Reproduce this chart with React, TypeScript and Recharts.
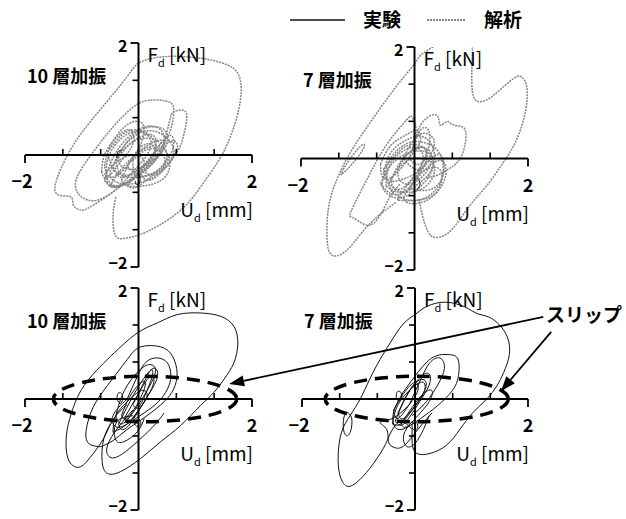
import { LineChart, Line, XAxis, YAxis, ReferenceLine, ReferenceDot, ReferenceArea } from 'recharts';

type Pt = [number, number];

const seriesNames = ['実験', '解析'];
const panelTitles = ['10 層加振', '7 層加振', '10 層加振', '7 層加振'];
const slipLabel = 'スリップ';
const axisEnds = [-2, 2];
const innerTicks = [-4 / 3, -2 / 3, 2 / 3, 4 / 3];

// ---- 10層加振, 解析 (grey) ----
const tl10Outer: Pt[] = [
  [-0.4, -0.75], [-0.45, -1.1], [-0.41, -1.43], [-0.26, -1.49], [0, -1.43], [0.32, -1.28],
  [0.68, -1.04], [0.97, -0.74], [1.26, -0.33], [1.47, 0], [1.62, 0.33], [1.75, 0.74],
  [1.81, 1.16], [1.75, 1.46], [1.56, 1.61], [1.21, 1.71], [0.74, 1.76], [0.32, 1.74],
  [0, 1.64], [-0.2, 1.4], [-0.6, 0.9], [-1.0, 0.4], [-1.3, -0.1], [-1.47, -0.65],
  [-1.21, -0.74], [-1.15, -0.89], [-1.03, -0.98], [-0.89, -0.95], [-0.56, -0.74], [-0.33, -0.57],
];
const tl10Mid: Pt[] = [
  [-0.33, -0.57], [-0.7, -0.8], [-1.0, -0.75], [-1.1, -0.45], [-0.8, 0.05], [-0.45, 0.5],
  [-0.1, 0.85], [0.2, 0.98], [0.53, 0.95], [0.62, 0.8], [0.58, 0.5], [0.45, 0.2],
  [0.25, -0.1], [0.0, -0.35], [-0.33, -0.57],
];
const tl10Side: Pt[] = [
  [0.45, 0.2], [0.55, 0.62], [0.62, 0.77], [0.79, 0.8], [0.85, 0.65], [0.79, 0.33],
  [0.7, 0.09], [0.5, -0.15], [0.3, -0.35], [0.1, -0.3],
];
const tl10Core: Pt[][] = [
  [[-0.6, -0.45], [-0.45, -0.05], [-0.2, 0.3], [0.1, 0.5], [0.35, 0.48], [0.45, 0.3], [0.35, 0.0], [0.1, -0.3], [-0.2, -0.5], [-0.45, -0.58], [-0.6, -0.45]],
  [[-0.5, -0.3], [-0.3, 0.1], [0.0, 0.38], [0.3, 0.42], [0.55, 0.25], [0.62, 0.0], [0.45, -0.25], [0.15, -0.45], [-0.2, -0.52], [-0.45, -0.45], [-0.5, -0.3]],
  [[-0.4, -0.1], [-0.15, 0.2], [0.15, 0.3], [0.4, 0.2], [0.5, -0.05], [0.3, -0.3], [0.0, -0.4], [-0.3, -0.35], [-0.4, -0.1]],
  [[-0.55, 0.05], [-0.3, 0.35], [-0.05, 0.45], [0.2, 0.35], [0.3, 0.1], [0.15, -0.2], [-0.1, -0.35], [-0.4, -0.3], [-0.55, 0.05]],
  [[-0.3, -0.45], [-0.1, -0.05], [0.2, 0.15], [0.45, 0.1], [0.55, -0.2], [0.4, -0.45], [0.1, -0.55], [-0.2, -0.55], [-0.3, -0.45]],
  [[-0.2, -0.2], [0.0, 0.1], [0.2, 0.2], [0.3, 0.05], [0.15, -0.15], [-0.05, -0.3], [-0.2, -0.2]],
  [[-0.6, -0.2], [-0.5, 0.15], [-0.25, 0.5], [0.0, 0.6], [0.1, 0.45], [0.0, 0.1], [-0.25, -0.25], [-0.5, -0.4], [-0.6, -0.2]],
  [[0.0, -0.3], [0.3, 0.05], [0.6, 0.25], [0.68, 0.1], [0.5, -0.2], [0.2, -0.45], [0.0, -0.3]],
  [[-0.55, -0.5], [-0.55, -0.1], [-0.35, 0.25], [-0.05, 0.42], [0.2, 0.3], [0.15, 0.0], [-0.1, -0.3], [-0.35, -0.55], [-0.55, -0.5]],
  [[-0.2, -0.55], [0.1, -0.2], [0.35, 0.15], [0.55, 0.35], [0.62, 0.2], [0.5, -0.1], [0.2, -0.4], [-0.05, -0.58], [-0.2, -0.55]],
  [[-0.45, -0.2], [-0.2, 0.15], [0.1, 0.35], [0.3, 0.3], [0.25, 0.0], [0.0, -0.25], [-0.3, -0.4], [-0.45, -0.2]],
  [[-0.35, 0.0], [-0.1, 0.35], [0.2, 0.5], [0.45, 0.45], [0.5, 0.2], [0.25, -0.1], [-0.05, -0.25], [-0.3, -0.2], [-0.35, 0.0]],
  [[-0.6, -0.35], [-0.35, -0.1], [-0.05, 0.0], [0.1, -0.15], [-0.1, -0.4], [-0.4, -0.55], [-0.6, -0.35]],
  [[-0.1, -0.1], [0.15, 0.1], [0.4, 0.05], [0.45, -0.2], [0.2, -0.35], [-0.05, -0.35], [-0.1, -0.1]],
  [[-0.5, -0.55], [-0.3, -0.25], [0.0, 0.05], [0.3, 0.25], [0.45, 0.2], [0.3, -0.1], [0.0, -0.35], [-0.3, -0.55], [-0.5, -0.55]],
  [[-0.65, -0.3], [-0.6, 0.0], [-0.4, 0.3], [-0.15, 0.45], [-0.1, 0.2], [-0.3, -0.1], [-0.55, -0.4], [-0.65, -0.3]],
];
const tl10Dark: Pt[][] = [
  [[0.02, -0.35], [0.02, -0.5], [-0.04, -0.52], [-0.06, -0.46]],
  [[-0.38, -0.05], [-0.36, 0.06], [-0.3, 0.08]],
];

// ---- 7層加振, 解析 (grey) ----
const tr7Outer: Pt[] = [
  [-0.33, -0.79], [-0.63, -1.02], [-0.92, -1.32], [-1.22, -1.67], [-1.46, -1.73], [-1.54, -1.44],
  [-1.51, -0.85], [-1.34, -0.31], [-1.1, 0.16], [-0.75, 0.69], [-0.33, 1.28], [0, 1.7],
  [0.14, 1.88], [0.44, 2.08], [0.7, 2.27], [0.95, 2.2], [1.02, 1.91], [1.02, 1.2],
  [1.17, 1.02], [1.4, 1.14], [1.75, 1.44], [1.9, 1.45], [1.98, 1.28], [1.96, 0.87],
  [1.8, 0.34], [1.56, -0.08], [1.27, -0.49], [0.97, -0.85], [0.67, -1.26], [0.44, -1.41],
  [0.26, -1.35], [0.14, -1.02], [0.08, -0.73],
];
const tr7Mid: Pt[] = [
  [-0.26, -0.46], [-0.44, -0.7], [-0.56, -0.94], [-0.73, -1.17], [-0.91, -1.17], [-1.09, -1.06],
  [-1.12, -0.95], [-0.85, -0.4], [-0.49, 0.25], [-0.14, 0.69], [-0.05, 0.75], [0.02, 0.6], [0.0, 0.3],
];
const tr7Strand: Pt[] = [[-1.3, -0.3], [-1.2, -0.1], [-0.95, 0.22], [-0.9, 0.18], [-1.1, -0.1], [-1.3, -0.3]];
const tr7Side: Pt[] = [
  [0.0, 0.3], [0.15, 0.66], [0.39, 0.78], [0.45, 0.6], [0.57, 0.66], [0.69, 0.6],
  [0.87, 0.55], [0.9, 0.31], [0.81, 0.01], [0.63, -0.17], [0.4, -0.3], [0.2, -0.35],
];
const tr7Core: Pt[][] = [
  [[-0.55, -0.35], [-0.45, 0.05], [-0.2, 0.3], [0.1, 0.4], [0.3, 0.25], [0.35, -0.05], [0.2, -0.4], [-0.1, -0.65], [-0.35, -0.7], [-0.55, -0.55], [-0.55, -0.35]],
  [[-0.4, -0.6], [-0.5, -0.2], [-0.3, 0.15], [0.0, 0.3], [0.35, 0.2], [0.5, -0.1], [0.45, -0.45], [0.2, -0.7], [-0.1, -0.75], [-0.4, -0.6]],
  [[-0.3, -0.2], [-0.1, 0.1], [0.15, 0.2], [0.3, 0.05], [0.2, -0.25], [-0.05, -0.45], [-0.25, -0.4], [-0.3, -0.2]],
  [[-0.6, -0.1], [-0.4, 0.25], [-0.1, 0.45], [0.05, 0.5], [0.1, 0.3], [-0.1, 0.0], [-0.35, -0.3], [-0.55, -0.35], [-0.6, -0.1]],
  [[-0.2, -0.7], [0.05, -0.35], [0.3, -0.1], [0.5, -0.05], [0.55, -0.3], [0.4, -0.6], [0.15, -0.78], [-0.1, -0.8], [-0.2, -0.7]],
  [[-0.45, -0.45], [-0.2, 0.0], [0.1, 0.2], [0.2, 0.05], [0.0, -0.3], [-0.25, -0.55], [-0.45, -0.45]],
  [[-0.1, 0.0], [0.05, 0.4], [0.15, 0.55], [0.25, 0.5], [0.25, 0.2], [0.1, -0.1], [-0.1, 0.0]],
  [[-0.5, -0.5], [-0.45, -0.15], [-0.25, 0.1], [0.0, 0.2], [0.15, 0.05], [0.05, -0.3], [-0.2, -0.6], [-0.5, -0.5]],
  [[-0.3, -0.75], [-0.1, -0.45], [0.2, -0.2], [0.45, -0.2], [0.45, -0.5], [0.2, -0.72], [-0.3, -0.75]],
  [[-0.55, -0.2], [-0.3, 0.1], [-0.05, 0.25], [0.2, 0.15], [0.15, -0.15], [-0.15, -0.35], [-0.45, -0.4], [-0.55, -0.2]],
  [[-0.2, 0.0], [0.0, 0.35], [0.2, 0.45], [0.35, 0.3], [0.25, 0.0], [0.05, -0.2], [-0.2, 0.0]],
  [[-0.4, -0.35], [-0.15, -0.05], [0.15, 0.0], [0.35, -0.15], [0.25, -0.45], [-0.05, -0.6], [-0.35, -0.55], [-0.4, -0.35]],
  [[-0.1, -0.55], [0.1, -0.25], [0.35, 0.05], [0.5, 0.0], [0.5, -0.3], [0.3, -0.55], [-0.1, -0.55]],
  [[-0.6, -0.45], [-0.4, -0.1], [-0.1, 0.1], [0.25, 0.1], [0.3, -0.2], [0.0, -0.5], [-0.35, -0.65], [-0.6, -0.45]],
];
const tr7Dark: Pt[][] = [[[0.05, -0.35], [0.1, -0.45], [0.05, -0.55]]];

// ---- 10層加振, 実験 (black) ----
const bl10Outer: Pt[] = [
  [-0.2, -0.1], [-0.44, -0.36], [-0.62, -0.72], [-0.85, -1.05], [-1.05, -1.23], [-1.24, -1.08],
  [-1.27, -0.65], [-1.18, -0.25], [-0.96, 0.24], [-0.49, 0.77], [-0.02, 1.19], [0.33, 1.37],
  [0.68, 1.52], [1.09, 1.55], [1.45, 1.49], [1.68, 1.31], [1.75, 1.01], [1.68, 0.65],
  [1.51, 0.36], [1.33, 0.12], [1.09, -0.12], [0.74, -0.48], [0.39, -0.77], [0.04, -1.07],
  [-0.32, -1.31], [-0.55, -1.34], [-0.64, -1.13], [-0.61, -0.71], [-0.44, -0.36],
];
const bl10Mid: Pt[] = [
  [-0.67, -0.86], [-0.88, -0.8], [-0.92, -0.55], [-0.8, -0.15], [-0.55, 0.24], [-0.2, 0.71],
  [0.04, 0.94], [0.39, 0.94], [0.6, 0.77], [0.68, 0.47], [0.62, 0.18], [0.45, -0.05],
  [0.15, -0.3], [-0.2, -0.55], [-0.45, -0.75], [-0.67, -0.86],
];
const bl10Inner: Pt[] = [
  [-0.2, 0.0], [0.0, 0.45], [0.15, 0.68], [0.33, 0.74], [0.51, 0.65], [0.57, 0.41],
  [0.51, 0.18], [0.35, -0.05], [0.1, -0.25], [-0.2, -0.45], [-0.4, -0.5], [-0.45, -0.3], [-0.2, 0.0],
];
const bl10Low: Pt[] = [
  [-0.1, -0.2], [-0.35, -0.5], [-0.55, -0.85], [-0.5, -1.05], [-0.3, -1.0], [0.0, -0.75],
  [0.3, -0.45], [0.45, -0.25],
];
const bl10Core: Pt[][] = [
  [[-0.35, -0.45], [-0.1, 0.05], [0.15, 0.45], [0.3, 0.55], [0.32, 0.35], [0.1, -0.05], [-0.15, -0.45], [-0.3, -0.55], [-0.35, -0.45]],
  [[-0.25, -0.35], [0.0, 0.1], [0.2, 0.4], [0.27, 0.3], [0.1, -0.05], [-0.15, -0.4], [-0.25, -0.35]],
  [[-0.3, -0.3], [-0.15, 0.05], [0.05, 0.3], [0.12, 0.25], [0.0, -0.05], [-0.2, -0.35], [-0.3, -0.3]],
  [[-0.4, -0.3], [-0.25, 0.15], [0.0, 0.5], [0.2, 0.62], [0.3, 0.5], [0.15, 0.15], [-0.1, -0.25], [-0.3, -0.45], [-0.4, -0.3]],
  [[-0.38, 0.0], [-0.36, 0.1], [-0.3, 0.1], [-0.28, 0.0], [-0.32, -0.08], [-0.38, 0.0]],
  [[-0.05, -0.38], [-0.06, -0.46], [0.0, -0.5], [0.04, -0.44], [0.02, -0.38], [-0.05, -0.38]],
  [[-0.45, -0.6], [-0.4, -0.3], [-0.2, -0.05], [0.05, 0.15], [0.15, 0.05], [0.0, -0.2], [-0.2, -0.45], [-0.45, -0.6]],
  [[-0.1, -0.1], [0.05, 0.2], [0.2, 0.5], [0.25, 0.45], [0.15, 0.15], [0.0, -0.15], [-0.1, -0.1]],
  [[-0.1, -0.3], [-0.38, -0.41], [-0.41, -0.71], [-0.26, -0.77], [-0.02, -0.59], [0.1, -0.35]],
];

// ---- 7層加振, 実験 (black) ----
const br7Outer: Pt[] = [
  [-0.05, -0.55], [-0.27, -0.41], [-0.45, -0.65], [-0.56, -0.89], [-0.8, -1.25], [-1.03, -1.5],
  [-1.21, -1.57], [-1.33, -1.37], [-1.36, -1.01], [-1.3, -0.6], [-1.15, -0.3], [-0.97, 0],
  [-0.8, 0.36], [-0.62, 0.71], [-0.44, 1.01], [-0.21, 1.35], [0, 1.52], [0.14, 1.63],
  [0.35, 1.72], [0.6, 1.74], [0.88, 1.66], [1.1, 1.54], [1.3, 1.48], [1.5, 1.33],
  [1.64, 1.1], [1.67, 0.8], [1.57, 0.48], [1.45, 0.24], [1.27, 0], [1.03, -0.24],
  [0.8, -0.54], [0.56, -0.83], [0.27, -0.98], [0.03, -0.98], [-0.05, -0.8], [-0.05, -0.55],
];
const br7Oval: Pt[] = [[-1.2, -0.24], [-1.12, -0.35], [-1.14, -0.58], [-1.22, -0.66], [-1.27, -0.5], [-1.25, -0.3], [-1.2, -0.24]];
const br7Mid: Pt[] = [
  [-0.21, 0.12], [0.14, 0.59], [0.38, 0.78], [0.6, 0.8], [0.76, 0.72], [0.77, 0.42],
  [0.66, 0.15], [0.4, -0.12], [0.1, -0.35], [-0.25, -0.55], [-0.39, -0.4], [-0.35, -0.15], [-0.21, 0.12],
];
const br7Inner: Pt[] = [
  [-0.1, -0.1], [0.1, 0.35], [0.26, 0.65], [0.44, 0.74], [0.52, 0.55], [0.4, 0.25], [0.2, -0.05], [-0.05, -0.3],
];
const br7Low: Pt[] = [
  [-0.1, -0.1], [-0.4, -0.35], [-0.62, -0.42], [-0.5, -0.55], [-0.47, -0.77], [-0.35, -0.88],
  [-0.18, -0.83], [0.05, -0.55], [0.3, -0.25],
];
const br7Core: Pt[][] = [
  [[-0.35, -0.4], [-0.15, 0.05], [0.1, 0.4], [0.25, 0.45], [0.25, 0.25], [0.05, -0.1], [-0.2, -0.45], [-0.35, -0.4]],
  [[-0.3, -0.25], [-0.1, 0.15], [0.1, 0.35], [0.2, 0.25], [0.05, -0.05], [-0.2, -0.35], [-0.3, -0.25]],
  [[-0.4, -0.45], [-0.3, -0.1], [-0.05, 0.2], [0.15, 0.3], [0.15, 0.1], [-0.05, -0.2], [-0.25, -0.45], [-0.4, -0.45]],
  [[-0.25, -0.45], [-0.05, -0.15], [0.15, 0.1], [0.3, 0.15], [0.25, -0.05], [0.05, -0.3], [-0.15, -0.5], [-0.25, -0.45]],
  [[-0.33, 0.02], [-0.32, 0.12], [-0.26, 0.13], [-0.24, 0.04], [-0.28, -0.04], [-0.33, 0.02]],
  [[-0.04, -0.42], [-0.05, -0.52], [0.01, -0.56], [0.05, -0.49], [0.02, -0.42], [-0.04, -0.42]],
  [[-0.38, -0.2], [-0.2, 0.1], [0.0, 0.3], [0.05, 0.15], [-0.1, -0.1], [-0.3, -0.35], [-0.38, -0.2]],
  [[-0.05, -0.4], [-0.2, -0.65], [-0.15, -0.85], [0.0, -0.8], [0.15, -0.55], [0.25, -0.3]],
];

// annotation (in 7層 実験 panel units)
const slipEllipses: { x1: number; x2: number; y1: number; y2: number }[] = [
  { x1: -1.5, x2: 1.73, y1: -0.41, y2: 0.41 },
  { x1: -1.59, x2: 1.65, y1: -0.41, y2: 0.41 },
];
const slipArrows: [Pt, Pt][] = [
  [[2.27, 1.48], [-3.29, 0.27]],
  [[2.41, 1.21], [1.52, 0.14]],
];
const slipLabelAt: Pt = [2.32, 1.39];

const BLACK = '#111';
const GREY = '#858585';
const FONT = "'Noto Sans CJK JP', 'Liberation Sans', sans-serif";

const toRows = (loop: Pt[]) => loop.map(([x, y]) => ({ x, y }));

interface Curve { pts: Pt[]; color: string; dashed?: boolean }

interface PanelProps {
  left: number;
  top: number;
  w: number;
  h: number;
  title: string;
  curves: Curve[];
  ellipse?: { x1: number; x2: number; y1: number; y2: number };
  withArrows?: boolean;
}

const txt = { fontFamily: FONT, fill: '#000' };

function Panel({ left, top, w, h, title, curves, ellipse, withArrows }: PanelProps) {
  return (
    <div style={{ position: 'absolute', left, top }}>
      <LineChart width={w} height={h} margin={{ top: 0, right: 0, bottom: 0, left: 0 }}>
        <XAxis dataKey="x" type="number" domain={[-2, 2]} allowDataOverflow hide />
        <YAxis type="number" domain={[-2, 2]} allowDataOverflow hide />
        {curves.map((c, i) => (
          <Line
            key={i}
            data={toRows(c.pts)}
            dataKey="y"
            type="natural"
            stroke={c.color}
            strokeWidth={c.dashed ? 1.5 : 1}
            strokeDasharray={c.dashed ? '2 1' : undefined}
            dot={false}
            activeDot={false}
            isAnimationActive={false}
          />
        ))}
        <ReferenceLine x={0} stroke="#000" strokeWidth={2} ifOverflow="visible" />
        <ReferenceLine y={0} stroke="#000" strokeWidth={2} ifOverflow="visible" />
        {innerTicks.map((t) => (
          <ReferenceDot key={'xt' + t} x={t} y={0} ifOverflow="visible"
            shape={(p: any) => <line x1={p.cx} y1={p.cy} x2={p.cx} y2={p.cy - 6} stroke="#000" strokeWidth={1.6} />} />
        ))}
        {innerTicks.map((t) => (
          <ReferenceDot key={'yt' + t} x={0} y={t} ifOverflow="visible"
            shape={(p: any) => <line x1={p.cx} y1={p.cy} x2={p.cx - 6} y2={p.cy} stroke="#000" strokeWidth={1.6} />} />
        ))}
        {axisEnds.map((t) => (
          <ReferenceDot key={'xe' + t} x={t} y={0} ifOverflow="visible"
            shape={(p: any) => (
              <g>
                <line x1={p.cx} y1={p.cy} x2={p.cx} y2={p.cy + 8} stroke="#000" strokeWidth={1.8} />
                <text x={p.cx + (t < 0 ? -3 : 0)} y={p.cy + 33} textAnchor="middle" fontSize={18} fontWeight={700} {...txt}>
                  {t < 0 ? '−2' : '2'}
                </text>
              </g>
            )} />
        ))}
        {axisEnds.map((t) => (
          <ReferenceDot key={'ye' + t} x={0} y={t} ifOverflow="visible"
            shape={(p: any) => (
              <g>
                <line x1={p.cx} y1={p.cy} x2={p.cx - 8} y2={p.cy} stroke="#000" strokeWidth={1.8} />
                <text x={p.cx - 11} y={p.cy + (t < 0 ? 2 : 9)} textAnchor="end" fontSize={16} fontWeight={700} {...txt}>
                  {t < 0 ? '−2' : '2'}
                </text>
              </g>
            )} />
        ))}
        <ReferenceDot x={0} y={2} ifOverflow="visible"
          shape={(p: any) => (
            <text x={p.cx + 9} y={p.cy + 19} fontSize={19} {...txt}>
              <tspan>F</tspan>
              <tspan fontSize={11} dy={5}>d</tspan>
              <tspan dy={-5}> [kN]</tspan>
            </text>
          )} />
        <ReferenceDot x={2} y={0} ifOverflow="visible"
          shape={(p: any) => (
            <text x={p.cx + 1} y={p.cy + 62} textAnchor="end" fontSize={19} {...txt}>
              <tspan>U</tspan>
              <tspan fontSize={11} dy={5}>d</tspan>
              <tspan dy={-5}> [mm]</tspan>
            </text>
          )} />
        <ReferenceDot x={-2} y={2} ifOverflow="visible"
          shape={(p: any) => (
            <text x={p.cx + 2} y={p.cy + 40} fontSize={18} fontWeight={700} {...txt}>{title}</text>
          )} />
        {ellipse && (
          <ReferenceArea {...ellipse} ifOverflow="visible"
            shape={(p: any) => (
              <ellipse cx={p.x + p.width / 2} cy={p.y + p.height / 2} rx={p.width / 2} ry={p.height / 2}
                fill="none" stroke="#000" strokeWidth={3.5} strokeDasharray="13 8" />
            )} />
        )}
        {withArrows && slipArrows.map((seg, i) => (
          <ReferenceLine key={'ar' + i} segment={[{ x: seg[0][0], y: seg[0][1] }, { x: seg[1][0], y: seg[1][1] }]}
            ifOverflow="visible"
            shape={(p: any) => {
              const { x1, y1, x2, y2 } = p;
              const a = Math.atan2(y2 - y1, x2 - x1);
              const L = 15;
              const W = 5.5;
              const bx = x2 - L * Math.cos(a);
              const by = y2 - L * Math.sin(a);
              const pts = `${x2},${y2} ${bx + W * Math.sin(a)},${by - W * Math.cos(a)} ${bx - W * Math.sin(a)},${by + W * Math.cos(a)}`;
              return (
                <g>
                  <line x1={x1} y1={y1} x2={bx} y2={by} stroke="#000" strokeWidth={1.8} />
                  <polygon points={pts} fill="#000" />
                </g>
              );
            }} />
        ))}
        {withArrows && (
          <ReferenceDot x={slipLabelAt[0]} y={slipLabelAt[1]} ifOverflow="visible"
            shape={(p: any) => (
              <text x={p.cx} y={p.cy} fontSize={19} fontWeight={700} {...txt}>{slipLabel}</text>
            )} />
        )}
      </LineChart>
    </div>
  );
}

const grey = (pts: Pt[]): Curve => ({ pts, color: GREY, dashed: true });
const black = (pts: Pt[]): Curve => ({ pts, color: BLACK });

export default function App() {
  return (
    <div style={{ position: 'relative', width: 626, height: 519, background: '#fff', overflow: 'hidden' }}>
      <style>{'body{margin:0} .recharts-surface{overflow:visible} g.recharts-line{clip-path:none !important}'}</style>
      <svg width={626} height={40} style={{ position: 'absolute', left: 0, top: 0 }}>
        <line x1={290} y1={20} x2={345} y2={20} stroke={BLACK} strokeWidth={1.4} />
        <text x={363} y={27} fontSize={19} fontWeight={700} {...txt}>{seriesNames[0]}</text>
        <line x1={427} y1={20} x2={465} y2={20} stroke={GREY} strokeWidth={1.8} strokeDasharray="2 1" />
        <text x={484} y={27} fontSize={19} fontWeight={700} {...txt}>{seriesNames[1]}</text>
      </svg>
      <Panel left={25} top={43} w={227} h={224} title={panelTitles[0]}
        curves={[...tl10Core.map(grey), grey(tl10Outer), grey(tl10Mid), grey(tl10Side), ...tl10Dark.map(black)]} />
      <Panel left={301} top={47} w={227} h={223} title={panelTitles[1]}
        curves={[...tr7Core.map(grey), grey(tr7Outer), grey(tr7Mid), grey(tr7Strand), grey(tr7Side), ...tr7Dark.map(black)]} />
      <Panel left={25} top={288} w={227} h={222} title={panelTitles[2]} ellipse={slipEllipses[0]}
        curves={[black(bl10Outer), black(bl10Mid), black(bl10Inner), black(bl10Low), ...bl10Core.map(black)]} />
      <Panel left={302} top={288} w={226} h={222} title={panelTitles[3]} ellipse={slipEllipses[1]} withArrows
        curves={[black(br7Outer), black(br7Oval), black(br7Mid), black(br7Inner), black(br7Low), ...br7Core.map(black)]} />
    </div>
  );
}
